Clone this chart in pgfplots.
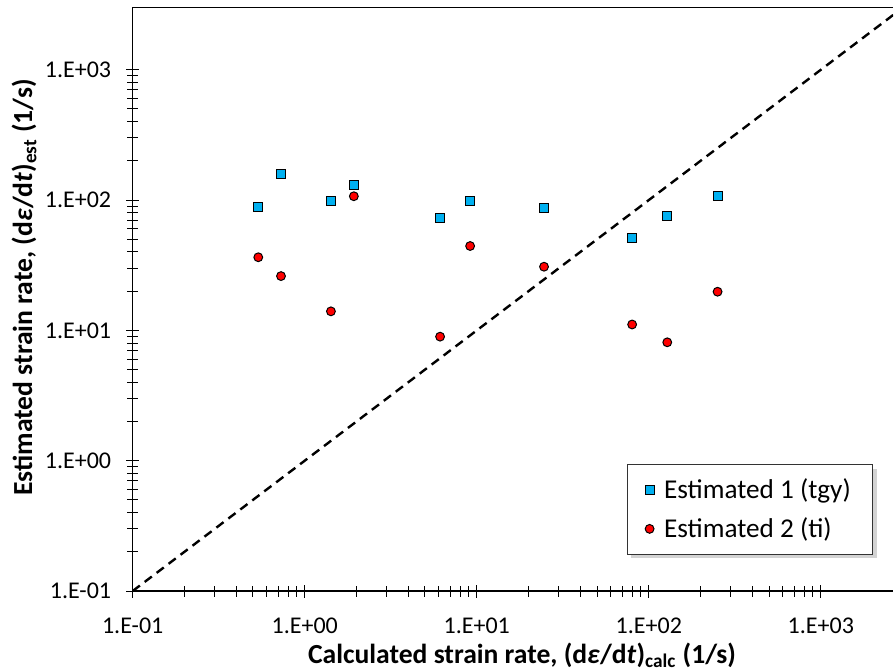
\documentclass[border=0pt]{standalone}
\usepackage{pgfplots}
\pgfplotsset{compat=1.18}
\usepackage{fontspec}
\setmainfont{Carlito}
\usetikzlibrary{shadows}
\definecolor{ser1}{HTML}{00B0F0}
\definecolor{ser2}{HTML}{FF0000}
\begin{document}
\begin{tikzpicture}
\begin{axis}[
  name=main,
  scale only axis, width=380.2pt, height=291.9pt,
  xmode=log, ymode=log,
  xmin=0.1, xmax=2630, ymin=0.1, ymax=3020,
  axis x line=box, axis y line=left,
  x axis line style={-}, y axis line style={-},
  axis line style={line width=0.6pt},
  xtick pos=bottom, ytick pos=left,
  tick align=center,
  major tick length=6.5pt, minor tick length=5.5pt,
  every tick/.style={black, line width=0.5pt},
  xtick={0.1,1,10,100,1000},
  xticklabels={1.E-01,1.E+00,1.E+01,1.E+02,1.E+03},
  ytick={0.1,1,10,100,1000},
  yticklabels={1.E-01,1.E+00,1.E+01,1.E+02,1.E+03},
  tick label style={font=\fontsize{12}{14}\selectfont},
  xticklabel style={yshift=-6.5pt},
  yticklabel style={xshift=-4pt},
  xlabel={Calculated strain rate, (d\textit{ε}/d\textit{t})\textsubscript{calc} (1/s)},
  ylabel={Estimated strain rate, (d\textit{ε}/d\textit{t})\textsubscript{est} (1/s)},
  label style={font=\bfseries\fontsize{13.8}{16}\selectfont},
  xlabel style={at={(axis description cs:0.512,0)}, anchor=base, yshift=-36pt},
  ylabel style={at={(axis description cs:0,0.52)}, anchor=base, yshift=50.3pt},
  legend style={at={(axis description cs:0.974,0.062)}, anchor=south east,
    draw=black!80, line width=0.5pt, fill=white,
    font=\fontsize{13.6}{16}\selectfont,
    row sep=4pt, inner xsep=9pt, inner ysep=5pt,
    drop shadow={shadow xshift=2pt, shadow yshift=-2pt, opacity=0.35}},
  legend cell align=left,
]
\addplot[black, dashed, line width=1.2pt, dash pattern=on 4.5pt off 3pt, forget plot]
  coordinates {(0.1,0.1) (3100,3100)};
\addplot[only marks, mark=square*, mark size=2.25pt,
  mark options={fill=ser1, draw=black, line width=0.5pt}]
  coordinates {(0.537,89) (0.728,158) (1.42,98) (1.93,131) (6.12,73)
               (9.15,98) (24.6,86.5) (80,51.4) (128,75.5) (251,107)};
\addlegendentry{\hspace{3pt}Estimated 1 (tgy)}
\addplot[only marks, mark=*, mark size=2.2pt,
  mark options={fill=ser2, draw=black, line width=0.5pt}]
  coordinates {(0.537,36.4) (0.728,26.1) (1.42,14.0) (1.93,107) (6.12,8.95)
               (9.15,44.4) (24.6,30.8) (80,11.1) (128,8.1) (251,19.8)};
\addlegendentry{\hspace{3pt}Estimated 2 (ti)}
\end{axis}
\pgfresetboundingbox
\path[use as bounding box] (main.south west) ++(-66.35pt,-40pt) rectangle ++(447pt,335.5pt);
\end{tikzpicture}
\end{document}
